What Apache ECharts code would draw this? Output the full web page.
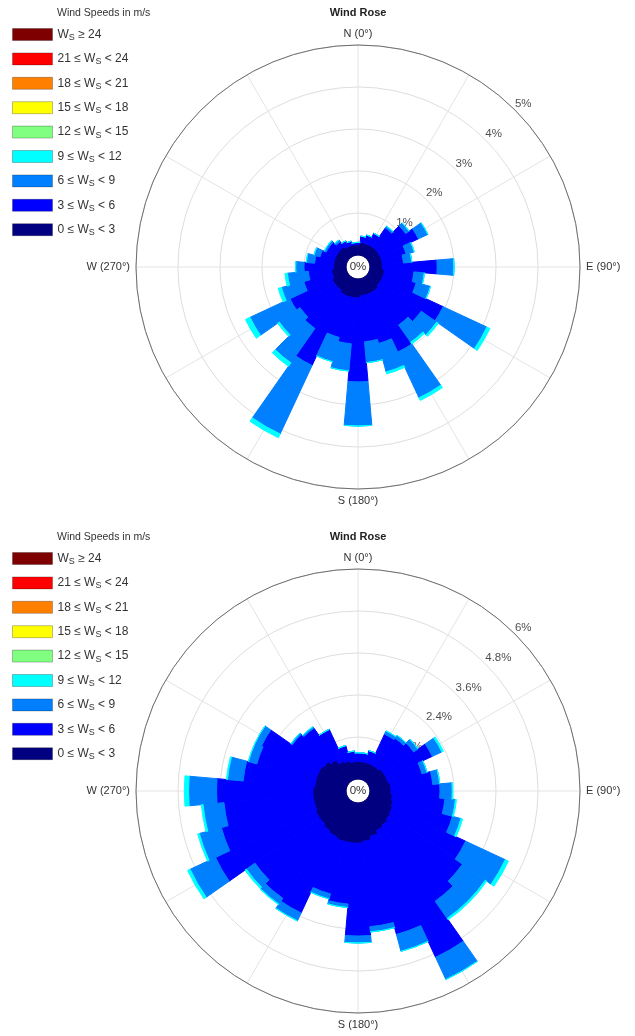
<!DOCTYPE html>
<html>
<head>
<meta charset="utf-8">
<script src="https://cdn.jsdelivr.net/npm/echarts@6/dist/echarts.min.js"></script>
<style>
  html, body { margin: 0; padding: 0; background: #fff; }
  #chart { width: 635px; height: 1036px; }
</style>
</head>
<body>
<div id="chart"></div>
<script>
// direction sectors (degrees, clockwise from north)
var directions = ['0','10','20','30','40','50','60','70','80','90','100','110',
  '120','130','140','150','160','170','180','190','200','210','220','230',
  '240','250','260','270','280','290','300','310','320','330','340','350'];

// speed bins, top of legend first
var binNames = ['Ws ≥ 24', '21 ≤ Ws < 24', '18 ≤ Ws < 21', '15 ≤ Ws < 18',
  '12 ≤ Ws < 15', '9 ≤ Ws < 12', '6 ≤ Ws < 9', '3 ≤ Ws < 6', '0 ≤ Ws < 3'];
var binColors = ['#7f0000', '#ff0000', '#ff8000', '#ffff00',
  '#80ff80', '#00ffff', '#0080ff', '#0000ff', '#000080'];

// upper rose, frequency in % per sector
var top_0_3  = [0.25,0.3,0.3,0.3,0.3,0.3,0.3,0.3,0.3,0.3,0.35,0.35,
  0.35,0.35,0.4,0.4,0.4,0.4,0.45,0.45,0.45,0.45,0.4,0.4,
  0.4,0.35,0.35,0.3,0.3,0.3,0.3,0.3,0.3,0.25,0.25,0.25];
var top_3_6  = [0.05,0.15,0.2,0.3,0.55,0.8,1.0,0.6,0.5,1.3,0.7,0.8,
  1.6,1.2,1.0,1.55,1.2,1.1,2.0,1.1,1.0,1.85,1.1,1.0,
  1.1,0.7,0.55,0.7,0.45,0.35,0.25,0.25,0.15,0.15,0.1,0.05];
var top_6_9  = [0,0,0,0,0.05,0.1,0.25,0.2,0.2,0.4,0.25,0.35,
  1.15,0.45,0.5,1.2,0.7,0.5,1.05,0.65,0.6,1.8,1.0,0.6,
  1.05,0.55,0.5,0.2,0.2,0.15,0.05,0.05,0.05,0,0,0];
var top_9_12 = [0,0,0,0,0,0,0,0,0,0,0,0,
  0.08,0.05,0.05,0.07,0.05,0,0,0,0,0.1,0.1,0.05,
  0.12,0.08,0.06,0,0,0,0,0,0,0,0,0];
var topRings = [1, 2, 3, 4, 5];

// lower rose, frequency in % per sector
var bot_0_3  = [0.5,0.5,0.5,0.5,0.5,0.55,0.55,0.55,0.6,0.6,0.65,0.7,
  0.75,0.8,0.85,0.9,1.0,1.1,1.15,1.15,1.15,1.1,1.05,1.0,
  1.0,0.95,0.95,0.95,0.9,0.9,0.9,0.85,0.75,0.6,0.55,0.5];
var bot_3_6  = [0.25,0.25,0.35,0.95,1.0,1.05,1.45,1.0,1.2,1.4,1.5,1.75,
  2.3,2.5,2.65,4.0,2.9,2.45,2.65,1.75,1.55,2.4,2.35,2.25,
  3.15,2.75,2.55,2.75,2.05,1.75,1.8,1.1,1.1,1.0,0.45,0.3];
var bot_6_9  = [0,0,0,0.1,0.1,0.15,0.3,0.15,0.2,0.35,0.3,0.25,
  1.25,0.8,0.6,0.7,0.5,0.15,0.2,0.1,0.15,0.25,0.2,0.3,
  0.8,0.65,0.6,0.8,0.45,0.25,0.2,0.05,0.05,0,0,0];
var bot_9_12 = [0,0,0,0,0,0,0.05,0,0,0.02,0.03,0.05,
  0.1,0.05,0.05,0,0,0,0,0,0,0,0.02,0.05,
  0.08,0.05,0.05,0.12,0.03,0,0,0,0,0,0,0];
var botRings = [1.2, 2.4, 3.6, 4.8, 6];

var FONT = 'Liberation Sans, Arial, sans-serif';
var centers = [[358, 267], [358, 791]];
var RAD = [12, 222];
var cardinal = { 0: 'N (0°)', 90: 'E (90°)', 180: 'S (180°)', 270: 'W (270°)' };

function gridAxes(max, step) {
  return {
    angle: {
      type: 'value', min: 0, max: 360, interval: 30, startAngle: 90, clockwise: true,
      axisLine: { lineStyle: { color: '#6e6e6e', width: 1 } },
      axisTick: { show: false },
      axisLabel: {
        margin: 6, color: '#333', fontSize: 11, fontFamily: FONT,
        formatter: function (v) { return cardinal[v] || ''; }
      },
      splitLine: { lineStyle: { color: '#e4e4e4', width: 1 } }
    },
    radius: {
      type: 'value', min: 0, max: max, interval: step,
      axisLine: { show: false }, axisTick: { show: false }, axisLabel: { show: false },
      splitLine: { lineStyle: { color: '#dedede', width: 1 } }
    }
  };
}

function barAxes(max) {
  return {
    angle: {
      type: 'category', data: directions, startAngle: 95, clockwise: true,
      axisLine: { show: false }, axisTick: { show: false }, axisLabel: { show: false },
      splitLine: { show: false }
    },
    radius: { type: 'value', min: 0, max: max, show: false, splitLine: { show: false } }
  };
}

var g1 = gridAxes(5, 1), b1 = barAxes(5);
var g2 = gridAxes(6, 1.2), b2 = barAxes(6);

var polar = [
  { center: centers[0], radius: RAD },
  { center: centers[0], radius: RAD },
  { center: centers[1], radius: RAD },
  { center: centers[1], radius: RAD }
];
var angleAxis = [
  Object.assign({ polarIndex: 0 }, g1.angle),
  Object.assign({ polarIndex: 1 }, b1.angle),
  Object.assign({ polarIndex: 2 }, g2.angle),
  Object.assign({ polarIndex: 3 }, b2.angle)
];
var radiusAxis = [
  Object.assign({ polarIndex: 0 }, g1.radius),
  Object.assign({ polarIndex: 1 }, b1.radius),
  Object.assign({ polarIndex: 2 }, g2.radius),
  Object.assign({ polarIndex: 3 }, b2.radius)
];

function ringLabels(polarIdx, rings) {
  return {
    type: 'scatter', coordinateSystem: 'polar', polarIndex: polarIdx,
    symbolSize: 0, z: 1, silent: true,
    data: rings.map(function (r) { return [r, 45]; }),
    label: {
      show: true, position: [0, 0], align: 'left', verticalAlign: 'bottom',
      color: '#222', fontSize: 11.5, fontFamily: FONT,
      formatter: function (p) { return p.value[0] + '%'; }
    }
  };
}

var series = [ringLabels(0, topRings), ringLabels(2, botRings)];

function addRose(polarIdx, bins) {
  // bins keyed by legend name, inner-most first
  binNames.slice().reverse().forEach(function (name) {
    var idx = binNames.indexOf(name);
    series.push({
      type: 'bar', coordinateSystem: 'polar', polarIndex: polarIdx,
      name: name, stack: 'rose' + polarIdx, barCategoryGap: '0%',
      itemStyle: { color: binColors[idx], borderColor: binColors[idx], borderWidth: 1 },
      data: bins[name] || []
    });
  });
}
addRose(1, { '0 ≤ Ws < 3': top_0_3, '3 ≤ Ws < 6': top_3_6, '6 ≤ Ws < 9': top_6_9, '9 ≤ Ws < 12': top_9_12 });
addRose(3, { '0 ≤ Ws < 3': bot_0_3, '3 ≤ Ws < 6': bot_3_6, '6 ≤ Ws < 9': bot_6_9, '9 ≤ Ws < 12': bot_9_12 });

function legendAt(top) {
  return {
    data: binNames, orient: 'vertical', left: 12, top: top, padding: 0,
    itemWidth: 40, itemHeight: 12, itemGap: 9.4, selectedMode: false,
    icon: 'rect',
    itemStyle: { borderColor: 'rgba(0,0,0,0.25)', borderWidth: 1 },
    textStyle: {
      color: '#333', fontSize: 12, fontFamily: FONT, lineHeight: 14, height: 14,
      rich: { s: { fontSize: 9, fontFamily: FONT, color: '#333', lineHeight: 14, padding: [6, 0, 0, 0] } }
    },
    formatter: function (name) { return name.replace('Ws', 'W{s|S}'); }
  };
}

function txt(x, y, s, opt) {
  return {
    type: 'text', x: x, y: y, silent: true,
    style: Object.assign({ text: s, fill: '#333', font: '11px ' + FONT,
      align: 'center', verticalAlign: 'middle' }, opt || {})
  };
}

var option = {
  animation: false,
  backgroundColor: '#fff',
  polar: polar,
  angleAxis: angleAxis,
  radiusAxis: radiusAxis,
  legend: [legendAt(27), legendAt(551)],
  series: series,
  graphic: [
    txt(358, 13, 'Wind Rose', { font: 'bold 11px ' + FONT, fill: '#222' }),
    txt(358, 537, 'Wind Rose', { font: 'bold 11px ' + FONT, fill: '#222' }),
    txt(57, 13, 'Wind Speeds in m/s', { align: 'left', font: '10.5px ' + FONT }),
    txt(57, 537, 'Wind Speeds in m/s', { align: 'left', font: '10.5px ' + FONT }),
    txt(centers[0][0], centers[0][1], '0%', { font: '11.5px ' + FONT }),
    txt(centers[1][0], centers[1][1], '0%', { font: '11.5px ' + FONT })
  ]
};

var chart = echarts.init(document.getElementById('chart'));
chart.setOption(option);
</script>
</body>
</html>
